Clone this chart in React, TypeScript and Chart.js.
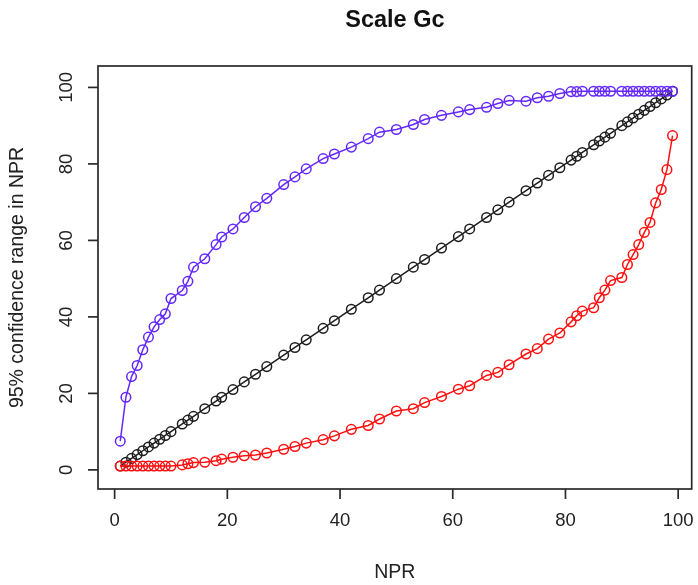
import React, { useEffect, useRef } from "react";
import { Chart, registerables } from "chart.js";

Chart.register(...registerables);

const titleText = "Scale Gc";
const xTitle = "NPR";
const yTitle = "95% confidence range in NPR";

const npr = [
  1, 2, 3, 4, 5, 6, 7, 8, 9, 10, 12, 13, 14, 16, 18, 19, 21, 23, 25, 27, 30, 32,
  34, 37, 39, 42, 45, 47, 50, 53, 55, 58, 61, 63, 66, 68, 70, 73, 75, 77, 79, 81,
  82, 83, 85, 86, 87, 88, 90, 91, 92, 93, 94, 95, 96, 97, 98, 99,
];

const upperCI = [
  7.5, 19, 24.4, 27.3, 31.4, 34.7, 37.4, 39.3, 40.8, 44.8, 46.9, 49.3, 53, 55.2,
  58.9, 60.9, 63, 66, 68.8, 71, 74.6, 76.6, 78.7, 81.4, 82.6, 84.4, 86.6, 88.3, 89,
  90.3, 91.6, 92.7, 93.6, 94.2, 94.8, 95.8, 96.6, 96.4, 97.3, 97.7, 98.4, 98.9, 98.9,
  99, 99, 99, 99, 99, 99, 99, 99, 99, 99, 99, 99, 99, 99, 99,
];

const lowerCI = [
  1, 1, 1, 1, 1, 1, 1, 1, 1, 1, 1.3, 1.6, 1.9, 2, 2.4, 2.8, 3.3, 3.7, 3.9, 4.4, 5.4,
  6.1, 7, 7.9, 8.9, 10.6, 11.6, 13.3, 15.4, 16, 17.6, 19.2, 21.1, 22, 24.7, 25.5,
  27.5, 30.3, 31.7, 34.2, 35.8, 38.7, 40.3, 41.5, 42.4, 45, 47, 49.5, 50.3, 53.7,
  56.3, 58.9, 62.1, 64.7, 69.8, 73.3, 78.5, 87.4,
];

const xTicks = [0, 20, 40, 60, 80, 100];
const yTicks = [0, 20, 40, 60, 80, 100];

const FONT = "'Liberation Sans', Arial, Helvetica, sans-serif";

const rAxesPlugin = {
  id: "rAxes",
  afterDraw(chart: any) {
    const { ctx, chartArea: a, scales } = chart;
    const xs = scales.x;
    const ys = scales.y;
    ctx.save();
    ctx.strokeStyle = "#2a2a2a";
    ctx.lineWidth = 1.7;
    ctx.strokeRect(a.left, a.top, a.right - a.left, a.bottom - a.top);

    ctx.fillStyle = "#222";
    ctx.font = `18.5px ${FONT}`;
    ctx.textAlign = "center";
    ctx.textBaseline = "middle";
    xTicks.forEach((v) => {
      const px = xs.getPixelForValue(v);
      ctx.beginPath();
      ctx.moveTo(px, a.bottom);
      ctx.lineTo(px, a.bottom + 10);
      ctx.stroke();
      ctx.fillText(String(v), px, a.bottom + 32);
    });
    yTicks.forEach((v) => {
      const py = ys.getPixelForValue(v);
      ctx.beginPath();
      ctx.moveTo(a.left, py);
      ctx.lineTo(a.left - 10, py);
      ctx.stroke();
      ctx.save();
      ctx.translate(a.left - 31, py);
      ctx.rotate(-Math.PI / 2);
      ctx.fillText(String(v), 0, 0);
      ctx.restore();
    });
    const cx = (a.left + a.right) / 2;
    const cy = (a.top + a.bottom) / 2;
    ctx.font = `19.5px ${FONT}`;
    ctx.fillText(xTitle, cx, 573);
    ctx.save();
    ctx.translate(18, cy);
    ctx.rotate(-Math.PI / 2);
    ctx.fillText(yTitle, 0, 0);
    ctx.restore();
    ctx.font = `bold 23.5px ${FONT}`;
    ctx.fillStyle = "#111";
    ctx.fillText(titleText, cx, 21);
    ctx.restore();
  },
};

const BLUE = "rgb(100, 40, 252)";
const RED = "rgb(255, 15, 15)";
const BLACK = "rgb(30, 30, 30)";

function series(label: string, ys: number[], color: string) {
  return {
    label,
    data: npr.map((x, i) => ({ x, y: ys[i] })),
    borderColor: color,
    backgroundColor: "rgba(0,0,0,0)",
    pointBorderColor: color,
    pointBackgroundColor: "rgba(0,0,0,0)",
    pointRadius: 4.8,
    pointBorderWidth: 1.5,
    borderWidth: 1.5,
    showLine: true,
    tension: 0,
  };
}

export default function App() {
  const ref = useRef<HTMLCanvasElement | null>(null);
  useEffect(() => {
    document.body.style.margin = "0";
    const canvas = ref.current!;
    const chart = new Chart(canvas, {
      type: "scatter",
      data: {
        datasets: [
          series("upper", upperCI, BLUE),
          series("lower", lowerCI, RED),
          series("npr", npr, BLACK),
        ],
      },
      options: {
        responsive: false,
        animation: false,
        layout: { padding: { left: 98, right: 6, top: 66, bottom: 96 } },
        plugins: {
          legend: { display: false },
          title: { display: false },
          tooltip: { enabled: false },
        },
        scales: {
          x: { type: "linear", display: false, min: -2.95, max: 102.4 },
          y: { type: "linear", display: false, min: -5.0, max: 105.6 },
        },
      },
      plugins: [rAxesPlugin],
    });
    return () => chart.destroy();
  }, []);
  return (
    <div style={{ width: 698, height: 585, background: "#fff" }}>
      <canvas ref={ref} width={698} height={585} style={{ display: "block" }} />
    </div>
  );
}
